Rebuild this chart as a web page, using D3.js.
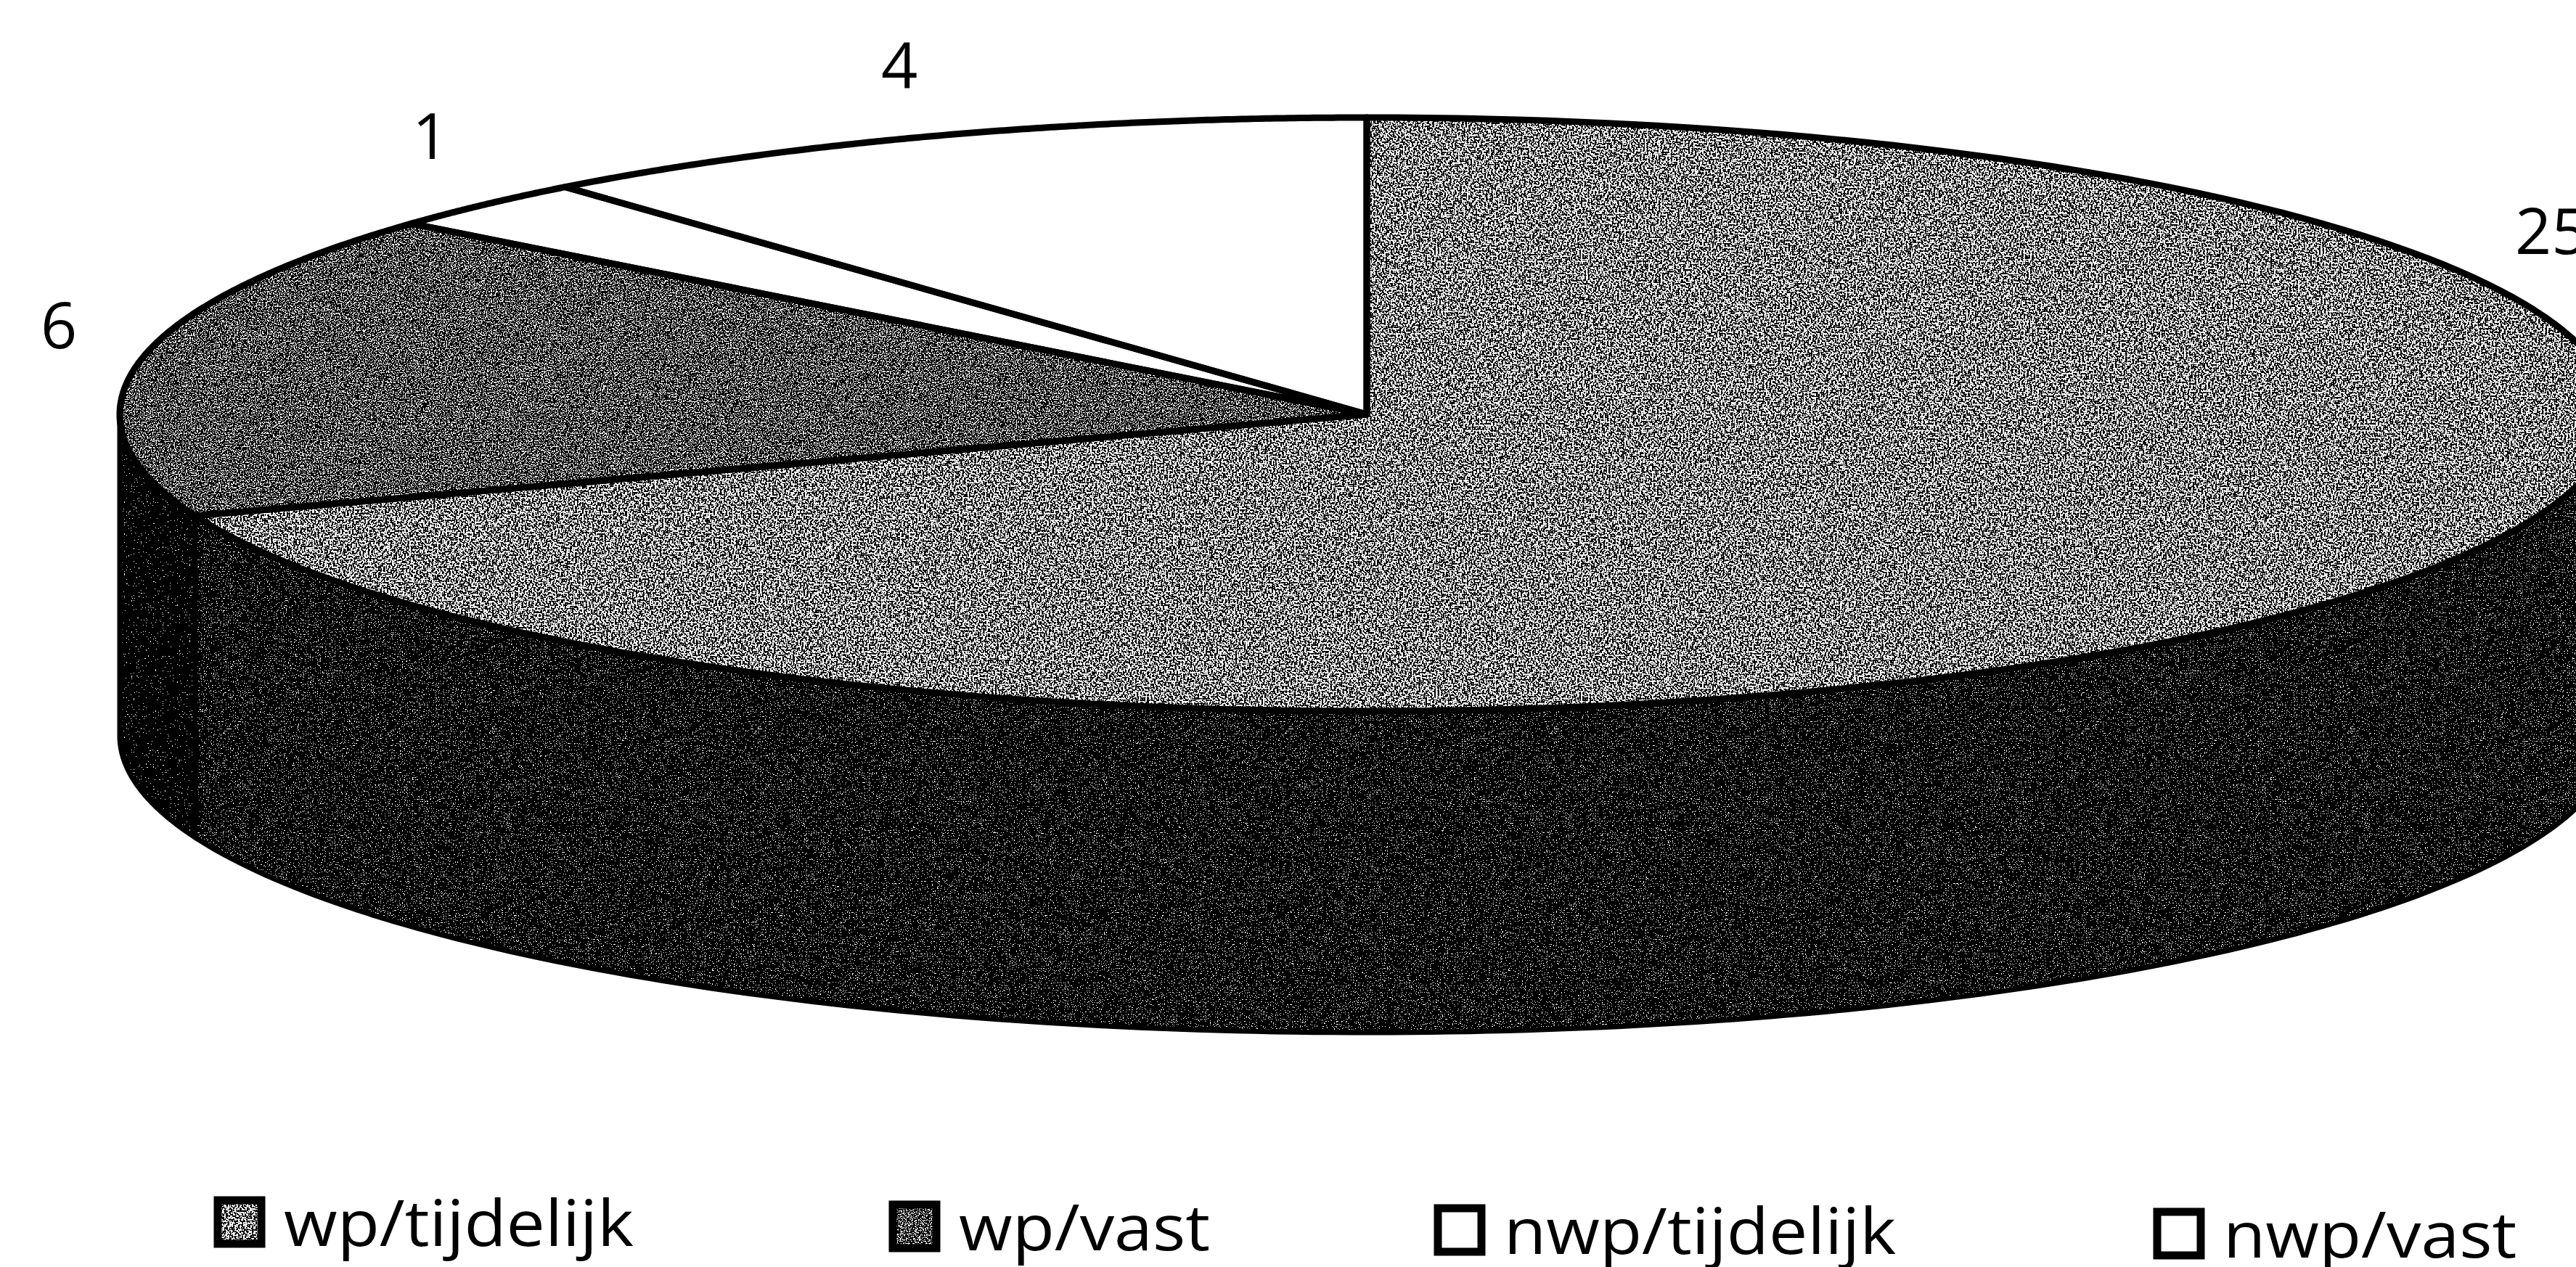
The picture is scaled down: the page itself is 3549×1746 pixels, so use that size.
<!DOCTYPE html>
<html>
<head>
<meta charset="utf-8">
<script src="https://cdn.jsdelivr.net/npm/d3@7"></script>
<style>
    html, body { margin: 0; padding: 0; background: #fff; overflow: hidden; }
    text { font-family: "Open Sans", sans-serif; fill: #000; }
</style>
</head>
<body>
<div id="chart"></div>
<script>
const categories = ["wp/tijdelijk", "wp/vast", "nwp/tijdelijk", "nwp/vast"];
const values = [25, 6, 1, 4];

const width = 3549, height = 1746;
const cx = 1883, cy = 571, rx = 1718, ry = 409, depth = 443;
const fontSize = 88;

const svg = d3.select("#chart").append("svg")
    .attr("width", width)
    .attr("height", height);

// scanned-looking dither, one filter per tone
const defs = svg.append("defs");
function dither(id, freq, table, seed) {
    const f = defs.append("filter")
        .attr("id", id)
        .attr("x", 0).attr("y", 0).attr("width", 1).attr("height", 1)
        .attr("color-interpolation-filters", "sRGB");
    f.append("feTurbulence")
        .attr("type", "fractalNoise")
        .attr("baseFrequency", freq)
        .attr("numOctaves", 1)
        .attr("seed", seed)
        .attr("result", "noise");
    f.append("feColorMatrix")
        .attr("in", "noise")
        .attr("type", "matrix")
        .attr("values", "1 0 0 0 0 1 0 0 0 0 1 0 0 0 0 0 0 0 0 1");
    const ct = f.append("feComponentTransfer").attr("result", "bw");
    ["feFuncR", "feFuncG", "feFuncB"].forEach(fn => {
        ct.append(fn).attr("type", "discrete").attr("tableValues", table);
    });
    f.append("feComposite")
        .attr("in", "bw")
        .attr("in2", "SourceAlpha")
        .attr("operator", "in");
}
dither("lightTone", 0.42, "0 0 0 0 0 0 0 0 0 0 1 1 1 1 1 1 1 1 1 1", 3);
dither("darkTone", 0.6, "0 0 0 0 0 0 0 0 0 0 0 1 1 1 1 1 1 1 1 1", 5);
dither("wallTone", 0.7, "0 0 0 0 0 0 0 0 0 0 0 0 0 1 1 1 1 1 1 1", 7);
dither("wallToneDark", 0.7, "0 0 0 0 0 0 0 0 0 0 0 0 0 0 1 1 1 1 1 1", 9);

const pie = d3.pie().sort(null).value(d => d);
const slices = pie(values);

// angle (clockwise from the top) to a point on the tilted rim
const rimX = a => cx + rx * Math.sin(a);
const rimY = a => cy - ry * Math.cos(a);

const line = d3.line();
function sweep(a0, a1) {
    return d3.range(0, 181).map(i => a0 + (a1 - a0) * i / 180);
}

// wall: only the front half of the rim shows
const frontStart = Math.PI / 2, frontEnd = Math.PI * 3 / 2;
const walls = slices
    .map(s => [Math.max(s.startAngle, frontStart), Math.min(s.endAngle, frontEnd)])
    .filter(d => d[1] > d[0]);

function wallPath(d) {
    const angles = sweep(d[0], d[1]);
    const upper = angles.map(a => [rimX(a), rimY(a)]);
    const lower = angles.slice().reverse().map(a => [rimX(a), rimY(a) + depth]);
    return line(upper.concat(lower)) + "Z";
}

const wallTones = ["url(#wallTone)", "url(#wallToneDark)"];
svg.append("g").selectAll("path")
    .data(walls)
    .enter().append("path")
    .attr("d", wallPath)
    .attr("fill", "#000")
    .attr("filter", (d, i) => wallTones[i]);

svg.append("g").selectAll("path")
    .data(walls)
    .enter().append("path")
    .attr("d", wallPath)
    .attr("fill", "none")
    .attr("stroke", "#000")
    .attr("stroke-width", 7);

// top face
function slicePath(d) {
    const rim = sweep(d.startAngle, d.endAngle).map(a => [rimX(a), rimY(a)]);
    return line([[cx, cy]].concat(rim)) + "Z";
}
const tones = ["url(#lightTone)", "url(#darkTone)", null, null];

const face = svg.append("g");
face.selectAll("path.fill")
    .data(slices)
    .enter().append("path")
    .attr("class", "fill")
    .attr("d", slicePath)
    .attr("fill", "#fff")
    .attr("filter", (d, i) => tones[i]);
face.selectAll("path.edge")
    .data(slices)
    .enter().append("path")
    .attr("class", "edge")
    .attr("d", slicePath)
    .attr("fill", "none")
    .attr("stroke", "#000")
    .attr("stroke-width", 9)
    .attr("stroke-linejoin", "round");

// value labels sit just outside the rim
const labelPos = [[3465, 350], [56, 480], [568, 219], [1214, 122]];
svg.append("g").selectAll("text")
    .data(values)
    .enter().append("text")
    .attr("x", (d, i) => labelPos[i][0])
    .attr("y", (d, i) => labelPos[i][1])
    .attr("font-size", fontSize)
    .text(d => d);

// legend, the scan is slightly tilted so each entry steps down
const legendPos = [[295, 1649], [1225, 1655], [1976, 1660], [2967, 1665]];
const legend = svg.append("g").selectAll("g")
    .data(categories)
    .enter().append("g")
    .attr("transform", (d, i) => `translate(${legendPos[i][0]},${legendPos[i][1]})`);
legend.append("rect")
    .attr("x", 5).attr("y", 5)
    .attr("width", 60).attr("height", 60)
    .attr("fill", "#fff")
    .attr("filter", (d, i) => tones[i]);
legend.append("rect")
    .attr("x", 5).attr("y", 5)
    .attr("width", 60).attr("height", 60)
    .attr("fill", "none")
    .attr("stroke", "#000")
    .attr("stroke-width", 11);
// the legend type in the scan is wider than Open Sans
legend.append("text")
    .attr("transform", "translate(96,68) scale(1.08,1)")
    .attr("font-size", fontSize)
    .text(d => d);
</script>
</body>
</html>
